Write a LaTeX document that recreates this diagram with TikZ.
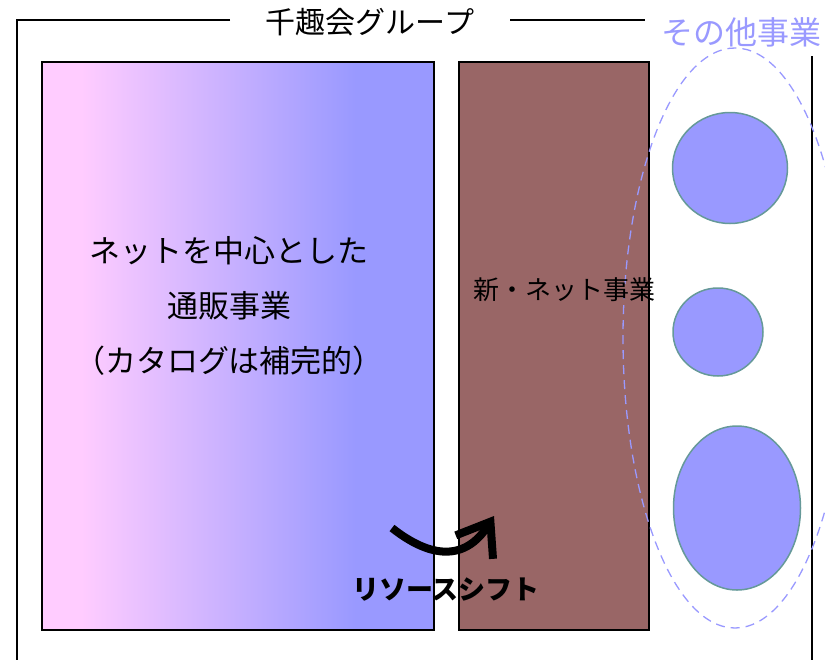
\documentclass[tikz,border=0pt]{standalone}
\usepackage{fontspec}
\newfontfamily\jp{Noto Sans CJK JP}
\usetikzlibrary{calc,shapes,arrows.meta,positioning}
\definecolor{pinkish}{RGB}{255,204,255}
\definecolor{lavender}{RGB}{153,153,255}
\definecolor{brownish}{RGB}{153,102,102}
\definecolor{tealish}{RGB}{102,153,153}
\pgfdeclarehorizontalshading{catalog}{100bp}{color(0bp)=(pinkish); color(30bp)=(pinkish); color(65bp)=(lavender); color(100bp)=(lavender)}

\begin{document}
\begin{tikzpicture}[x=1pt,y=-1pt,font=\jp]
\tikzstyle{panel}=[draw=black, line width=1.5pt, inner sep=0pt]
\tikzstyle{biz}=[ellipse, draw=tealish, line width=1.5pt, fill=lavender, inner sep=0pt]
\tikzstyle{big}=[font=\jp\fontsize{31}{55}\selectfont, align=center]
\useasboundingbox (0,0) rectangle (825,659);
% group frame
\draw[line width=1.5pt] (230,20) -- (17,20) -- (17,665);
\draw[line width=1.5pt] (510,20) -- (645,20);
\draw[line width=1.5pt] (812,56) -- (812,665);
\node[font=\jp\fontsize{30}{30}\selectfont] (group) at (370,22) {千趣会グループ};
% main business
\node[panel, minimum width=392pt, minimum height=568pt, shading=catalog] (net) at (238,346) {};
\node[panel, minimum width=190pt, minimum height=568pt, fill=brownish] (newnet) at (554,346) {};
\node[big] (netlbl) at (229,306) {ネットを中心とした\\通販事業\\（カタログは補完的）};
% other businesses
\node[ellipse, draw=lavender, dash pattern=on 9pt off 6pt, line width=1.3pt, minimum width=224pt, minimum height=580pt, inner sep=0pt] (other) at (735,338) {};
\node[font=\jp\fontsize{32}{32}\selectfont, text=lavender] (otherlbl) at (741,32) {その他事業};
\foreach \name/\x/\y/\w/\h in {1/730/168/115/111, 2/718/332/90/88, 3/737/508/127/164}
    \node[biz, minimum width=\w pt, minimum height=\h pt] (c\name) at (\x,\y) {};
\node[font=\jp\fontsize{26}{26}\selectfont] (newlbl) at (564,290) {新・ネット事業};
% shift
\coordinate (from) at (392,528);
\coordinate (to) at (494,516);
\draw[line width=8pt, -{Straight Barb[length=30pt,width=44pt]}] (from) .. controls (430,558) and (465,562) .. (to);
\node[font=\jp\bfseries\fontsize{27}{27}\selectfont] (shift) at (446,590) {リソースシフト};
\end{tikzpicture}
\end{document}
